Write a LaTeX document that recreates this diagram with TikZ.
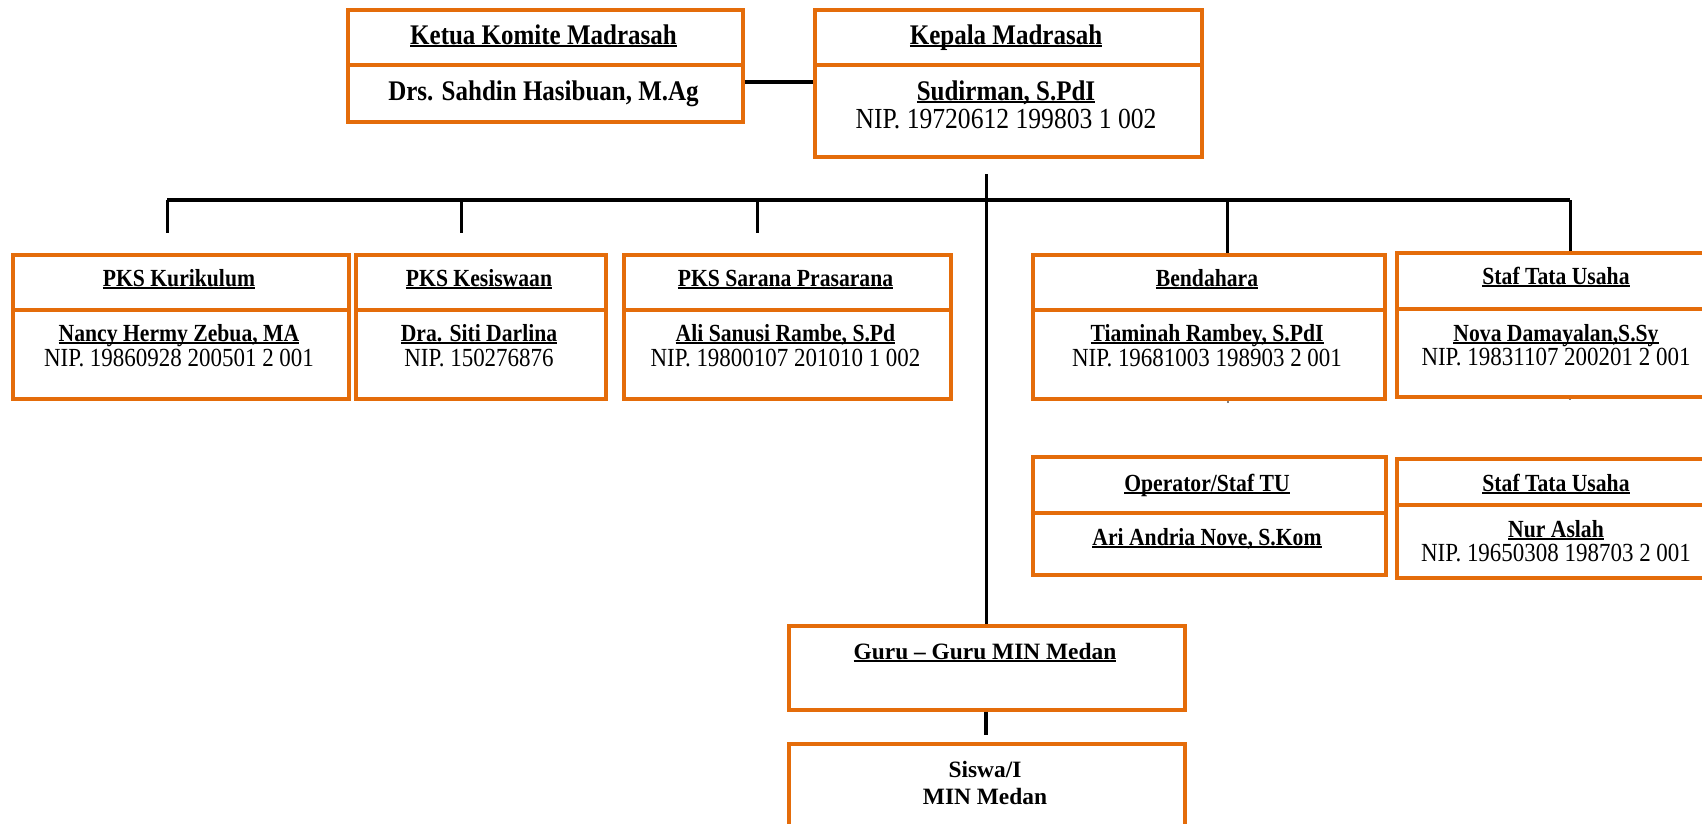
\documentclass[tikz,border=0pt]{standalone}
\usepackage{fontspec}
\setmainfont{Liberation Serif}
\newfontfamily\nfont{Liberation Serif}[FakeStretch=0.88]
\definecolor{orng}{RGB}{228,108,10}
\newsavebox\ulbox
\newcommand\ulx[1]{\sbox\ulbox{#1}\rlap{\rule[-0.11em]{\wd\ulbox}{0.07em}}\usebox\ulbox}
\newcommand\bA{\bfseries\fontsize{28.4}{30}\selectfont}
\newcommand\bB{\bfseries\fontsize{24.6}{26}\selectfont}
\tikzset{
  obox/.style={draw=orng, line width=3.5pt, rectangle, inner sep=0pt, anchor=north west},
  txtA/.style={inner sep=0pt, anchor=base, font=\nfont\fontsize{29.1}{31}\selectfont},
  txtB/.style={inner sep=0pt, anchor=base, font=\nfont\fontsize{26.1}{28}\selectfont},
  txtG/.style={inner sep=0pt, anchor=base, font=\rmfamily\bfseries\fontsize{23.4}{26}\selectfont},
  busline/.style={draw=black, line width=4.5pt},
  dropline/.style={draw=black, line width=3pt},
  stubline/.style={draw=gray, line width=2.5pt},
}
\begin{document}
\begin{tikzpicture}[x=1pt,y=-1pt]
\useasboundingbox[fill=white] (0,0) rectangle (1702,823);
% boxes
\node[obox, minimum width=395pt, minimum height=55pt] (ketua-h) at (346,8) {};
\node[obox, minimum width=395pt, minimum height=57pt] (ketua-b) at (346,63) {};
\node[obox, minimum width=387pt, minimum height=55pt] (kep-h) at (813,8) {};
\node[obox, minimum width=387pt, minimum height=92pt] (kep-b) at (813,63) {};
\node[obox, minimum width=336pt, minimum height=55pt] (kur-h) at (11,253) {};
\node[obox, minimum width=336pt, minimum height=89pt] (kur-b) at (11,308) {};
\node[obox, minimum width=250pt, minimum height=55pt] (kes-h) at (354,253) {};
\node[obox, minimum width=250pt, minimum height=89pt] (kes-b) at (354,308) {};
\node[obox, minimum width=327pt, minimum height=55pt] (sar-h) at (622,253) {};
\node[obox, minimum width=327pt, minimum height=89pt] (sar-b) at (622,308) {};
\node[obox, minimum width=352pt, minimum height=55pt] (ben-h) at (1031,253) {};
\node[obox, minimum width=352pt, minimum height=89pt] (ben-b) at (1031,308) {};
\node[obox, minimum width=330pt, minimum height=56pt] (st1-h) at (1395,251) {};
\node[obox, minimum width=330pt, minimum height=88pt] (st1-b) at (1395,307) {};
\node[obox, minimum width=353pt, minimum height=56pt] (op-h) at (1031,455) {};
\node[obox, minimum width=353pt, minimum height=62pt] (op-b) at (1031,511) {};
\node[obox, minimum width=330pt, minimum height=46pt] (st2-h) at (1395,457) {};
\node[obox, minimum width=330pt, minimum height=73pt] (st2-b) at (1395,503) {};
\node[obox, minimum width=396pt, minimum height=84pt] (guru) at (787,624) {};
\node[obox, minimum width=396pt, minimum height=110pt] (siswa) at (787,742) {};
% texts
\node[txtA] (ketua-t) at (543.5,44) {\bA\ulx{Ketua Komite Madrasah}};
\node[txtA] (ketua-n) at (543.5,100) {\bA Drs. Sahdin Hasibuan, M.Ag};
\node[txtA] (kep-t) at (1006,44) {\bA\ulx{Kepala Madrasah}};
\node[txtA] (kep-n) at (1006,100) {\bA\ulx{Sudirman, S.PdI}};
\node[txtA] (kep-nip) at (1006,128) {NIP. 19720612 199803 1 002};
\node[txtB] (kur-t) at (179,286) {\bB\ulx{PKS Kurikulum}};
\node[txtB] (kur-n) at (179,341) {\bB\ulx{Nancy Hermy Zebua, MA}};
\node[txtB] (kur-nip) at (179,366) {NIP. 19860928 200501 2 001};
\node[txtB] (kes-t) at (479,286) {\bB\ulx{PKS Kesiswaan}};
\node[txtB] (kes-n) at (479,341) {\bB\ulx{Dra. Siti Darlina}};
\node[txtB] (kes-nip) at (479,366) {NIP. 150276876};
\node[txtB] (sar-t) at (785.5,286) {\bB\ulx{PKS Sarana Prasarana}};
\node[txtB] (sar-n) at (785.5,341) {\bB\ulx{Ali Sanusi Rambe, S.Pd}};
\node[txtB] (sar-nip) at (785.5,366) {NIP. 19800107 201010 1 002};
\node[txtB] (ben-t) at (1207,286) {\bB\ulx{Bendahara}};
\node[txtB] (ben-n) at (1207,341) {\bB\ulx{Tiaminah Rambey, S.PdI}};
\node[txtB] (ben-nip) at (1207,366) {NIP. 19681003 198903 2 001};
\node[txtB] (st1-t) at (1556,284) {\bB\ulx{Staf Tata Usaha}};
\node[txtB] (st1-n) at (1556,341) {\bB\ulx{Nova Damayalan,S.Sy}};
\node[txtB] (st1-nip) at (1556,365) {NIP. 19831107 200201 2 001};
\node[txtB] (op-t) at (1207,491) {\bB\ulx{Operator/Staf TU}};
\node[txtB] (op-n) at (1207,545) {\bB\ulx{Ari Andria Nove, S.Kom}};
\node[txtB] (st2-t) at (1556,491) {\bB\ulx{Staf Tata Usaha}};
\node[txtB] (st2-n) at (1556,537) {\bB\ulx{Nur Aslah}};
\node[txtB] (st2-nip) at (1556,561) {NIP. 19650308 198703 2 001};
\node[txtG] (guru-t) at (985,659) {\ulx{Guru -- Guru MIN Medan}};
\node[txtG] (siswa-t1) at (985,777) {Siswa/I};
\node[txtG] (siswa-t2) at (985,804) {MIN Medan};
% connectors
\coordinate (topy) at (0,82);
\draw[busline] (ketua-b.east |- topy) -- (kep-b.west |- topy);
\coordinate (vtop) at (986,174);
\draw[dropline] (vtop) -- (vtop |- guru.north);
\coordinate (busL) at (167,200);
\coordinate (busR) at (1570,200);
\draw[busline] (busL) -- (busR);
\coordinate (e1) at (167,233);
\coordinate (b2) at (461,200);
\coordinate (e2) at (461,233);
\coordinate (b3) at (757,200);
\coordinate (e3) at (757,233);
\coordinate (b4) at (1227,200);
\draw[dropline] (busL) -- (e1);
\draw[dropline] (b2) -- (e2);
\draw[dropline] (b3) -- (e3);
\draw[dropline] (b4) -- (b4 |- ben-h.north);
\draw[dropline] (busR) -- (busR |- st1-h.north);
\coordinate (gs) at (986,735);
\draw[busline] (gs |- guru.south) -- (gs);
\coordinate (s1) at (1228,403);
\coordinate (s2) at (1570,400);
\draw[stubline] (s1 |- ben-b.south) -- (s1);
\draw[stubline] (s2 |- st1-b.south) -- (s2);
\end{tikzpicture}
\end{document}
